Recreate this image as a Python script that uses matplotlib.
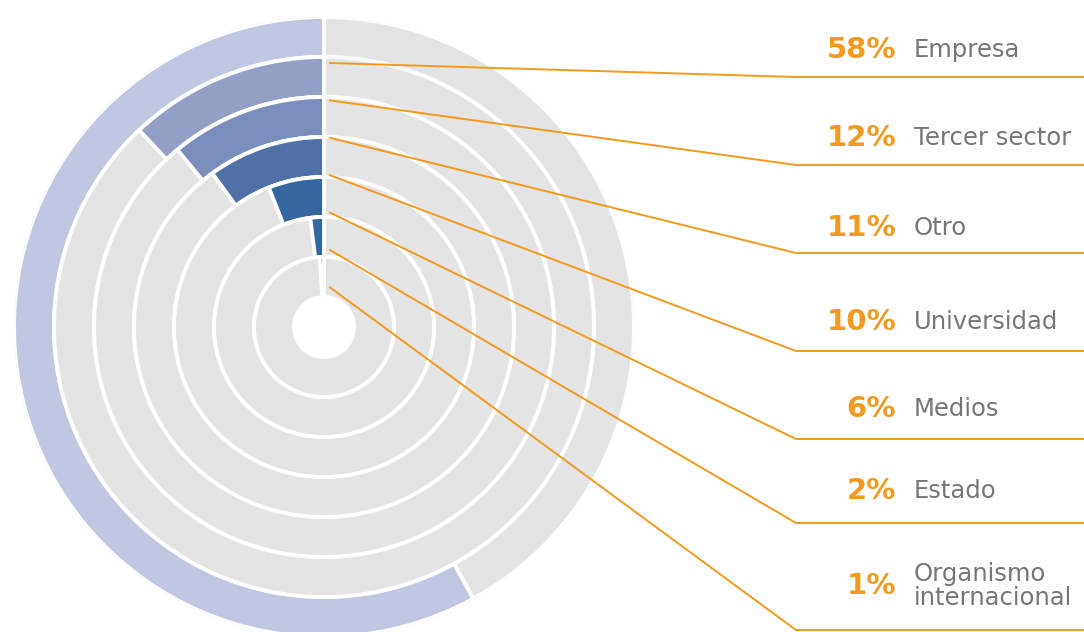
import numpy as np
import matplotlib
matplotlib.use('Agg')
import matplotlib.pyplot as plt

plt.rcParams['font.family'] = 'DejaVu Sans'

# data (outer ring -> inner ring)
categories = ['Empresa', 'Tercer sector', 'Otro', 'Universidad', 'Medios', 'Estado',
              'Organismo\ninternacional']
shares = [58, 12, 11, 10, 6, 2, 1]

ring_colors = ['#C2C7E1', '#949FC6', '#7B8DBD', '#5071A8', '#3466A0', '#3466A0', '#0E5A9D']
track_color = '#E3E4E3'
orange = '#F39A1E'
grey_txt = '#767676'

W, H = 1084, 632
cx, cy, r_out, ring_w = 324, 327, 310, 40

fig = plt.figure(figsize=(W / 100, H / 100), dpi=100)

# polar rings
pax = fig.add_axes([(cx - r_out) / W, (H - cy - r_out) / H, 2 * r_out / W, 2 * r_out / H],
                   projection='polar')
pax.set_theta_zero_location('N')
pax.set_theta_direction(1)
pax.set_ylim(0, r_out)
for i, (v, c) in enumerate(zip(shares, ring_colors)):
    bottom = r_out - ring_w * (i + 1)
    pax.bar(0, ring_w, width=2 * np.pi, bottom=bottom, align='edge',
            color=track_color, edgecolor='white', linewidth=2.8)
    pax.bar(0, ring_w, width=v / 100 * 2 * np.pi, bottom=bottom, align='edge',
            color=c, edgecolor='white', linewidth=2.8)
pax.set_axis_off()

# overlay in pixel coordinates for leaders and labels
ax = fig.add_axes([0, 0, 1, 1])
ax.set_xlim(0, W)
ax.set_ylim(H, 0)
ax.set_facecolor('none')
ax.axis('off')

line_y = [77, 165, 253, 351, 439, 523, 630]
text_y = [50, 138, 228, 322, 409, 491, 586]
bend_x = 796
for i, (cat, v) in enumerate(zip(categories, shares)):
    y0 = 63 + 37.4 * i
    ax.plot([cx + 6, bend_x, W], [y0, line_y[i], line_y[i]], color=orange, lw=1.4,
            solid_joinstyle='miter')
    ax.text(896, text_y[i], f'{v}%', color=orange, fontsize=21, fontweight='bold',
            ha='right', va='center')
    ax.text(914, text_y[i], cat, color=grey_txt, fontsize=17.5, ha='left', va='center',
            linespacing=0.95)

fig.savefig('out.png', dpi=100, facecolor='white')
